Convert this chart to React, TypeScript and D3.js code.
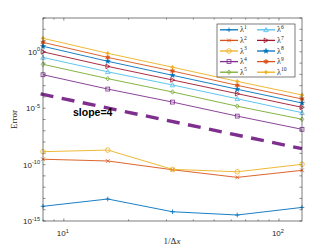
import React from "react";
import * as d3 from "d3";

// grid resolution 1/Δx
const gridN = [8, 16, 32, 64, 128];

// error for each power λ^k
const err1 = [2.0e-14, 8.9e-14, 6.6e-15, 3.4e-15, 1.6e-14];
const err2 = [3.0e-10, 2.1e-10, 3.5e-11, 7.4e-12, 3.1e-11];
const err3 = [1.4e-9, 1.95e-9, 3.8e-11, 2.3e-11, 1.07e-10];
const err4 = [9.3e-3, 5.0e-4, 3.5e-5, 2.0e-6, 1.35e-7];
const err5 = [7.8e-2, 4.2e-3, 2.75e-4, 1.5e-5, 1.05e-6];
const err6 = [0.32, 1.7e-2, 1.15e-3, 6.9e-5, 4.0e-6];
const err7 = [1.0, 5.1e-2, 3.2e-3, 1.95e-4, 1.2e-5];
const err8 = [3.1, 0.145, 8.3e-3, 4.8e-4, 2.9e-5];
const err9 = [6.9, 0.32, 2.0e-2, 1.07e-3, 6.6e-5];
const err10 = [15.8, 0.74, 4.3e-2, 2.4e-3, 1.5e-4];

// reference slope line
const slopeX = [7.8, 128];
const slopeY = [1.85e-4, 2.6e-9];

const seriesNames = ["1", "2", "3", "4", "5", "6", "7", "8", "9", "10"];
const seriesData = [err1, err2, err3, err4, err5, err6, err7, err8, err9, err10];
const colors = ["#0072BD", "#D95319", "#EDB120", "#7E2F8E", "#77AC30", "#4DBEEE", "#A2142F", "#0072BD", "#D95319", "#EDB120"];
const markers = ["plus", "cross", "circle", "square", "diamond", "triangle", "right", "star", "hex", "dot"];

const yTickExp = [0, -5, -10, -15];
const xTickExp = [1, 2];

const W = 333, H = 249;
const mL = 43, mR = 302, mT = 18, mB = 221;
const axisColor = "#262626";

function starPath(n: number, r1: number, r2: number) {
  const pts: string[] = [];
  for (let i = 0; i < 2 * n; i++) {
    const a = (Math.PI * i) / n - Math.PI / 2;
    const r = i % 2 === 0 ? r1 : r2;
    pts.push(`${(r * Math.cos(a)).toFixed(2)},${(r * Math.sin(a)).toFixed(2)}`);
  }
  return "M" + pts.join("L") + "Z";
}

function Marker({ kind, x, y, color }: { kind: string; x: number; y: number; color: string }) {
  const s = 2.3;
  const common = { stroke: color, strokeWidth: 0.8, fill: "none" };
  const t = `translate(${x},${y})`;
  switch (kind) {
    case "plus":
      return <path transform={t} d={`M${-s},0H${s}M0,${-s}V${s}`} {...common} />;
    case "cross":
      return <path transform={t} d={`M${-s * 0.8},${-s * 0.8}L${s * 0.8},${s * 0.8}M${-s * 0.8},${s * 0.8}L${s * 0.8},${-s * 0.8}`} {...common} />;
    case "circle":
      return <circle cx={x} cy={y} r={s} {...common} />;
    case "square":
      return <rect x={x - s * 0.85} y={y - s * 0.85} width={s * 1.7} height={s * 1.7} {...common} />;
    case "diamond":
      return <path transform={t} d={`M0,${-s}L${s * 0.8},0L0,${s}L${-s * 0.8},0Z`} {...common} />;
    case "triangle":
      return <path transform={t} d={`M0,${-s}L${s},${s * 0.8}L${-s},${s * 0.8}Z`} {...common} />;
    case "right":
      return <path transform={t} d={`M${s},0L${-s * 0.8},${-s}L${-s * 0.8},${s}Z`} {...common} />;
    case "star":
      return <path transform={t} d={starPath(5, s * 1.2, s * 0.5)} fill={color} stroke={color} strokeWidth={0.4} />;
    case "hex":
      return <path transform={t} d={starPath(6, s * 1.1, s * 0.6)} fill={color} stroke={color} strokeWidth={0.4} />;
    default:
      return <path transform={t} d={starPath(4, s * 0.9, s * 0.45)} fill={color} stroke={color} strokeWidth={0.6} />;
  }
}

function Pow({ base, exp, size, italicBase }: { base: string; exp: string; size: number; italicBase?: boolean }) {
  return (
    <>
      <tspan fontStyle={italicBase ? "italic" : "normal"}>{base}</tspan>
      <tspan fontSize={size * 0.7} dy={-size * 0.42}>{exp}</tspan>
    </>
  );
}

export default function App() {
  const x = d3.scaleLog().domain([8, 128]).range([mL, mR]);
  const y = d3.scaleLog().domain([1e-15, 1e3]).range([mB, mT]);

  const line = d3
    .line<number>()
    .x((_, i) => x(gridN[i]))
    .y((d) => y(d));

  const xMinor: number[] = [];
  for (let v = 8; v <= 128; ) {
    xMinor.push(v);
    v += v < 10 ? 1 : v < 100 ? 10 : 100;
  }
  const yMinor = d3.range(-15, 4).map((e) => Math.pow(10, e));

  const tl = 2.6;
  const legX = 217, legY = 24, legW = 78, legH = 53;
  const rowH = legH / 5;

  return (
    <svg width={W} height={H} style={{ position: "absolute", left: 0, top: 0, background: "#fff" }} fontFamily="Liberation Sans, Arial, sans-serif">
      <rect x={0} y={0} width={W} height={H} fill="#fff" />
      <rect x={mL} y={mT} width={mR - mL} height={mB - mT} fill="#fff" />

      {/* ticks */}
      <g stroke={axisColor} strokeWidth={0.5}>
        {xMinor.map((v) => (
          <g key={"x" + v}>
            <line x1={x(v)} x2={x(v)} y1={mB} y2={mB - (v === 10 || v === 100 ? tl : tl * 0.6)} />
            <line x1={x(v)} x2={x(v)} y1={mT} y2={mT + (v === 10 || v === 100 ? tl : tl * 0.6)} />
          </g>
        ))}
        {yMinor.map((v) => (
          <g key={"y" + v}>
            <line x1={mL} x2={mL + tl} y1={y(v)} y2={y(v)} />
            <line x1={mR} x2={mR - tl} y1={y(v)} y2={y(v)} />
          </g>
        ))}
      </g>

      {/* series */}
      {seriesData.map((d, i) => (
        <g key={"s" + i}>
          <path d={line(d) || ""} fill="none" stroke={colors[i]} strokeWidth={0.9} />
          {d.map((v, j) => (
            <Marker key={j} kind={markers[i]} x={x(gridN[j])} y={y(v)} color={colors[i]} />
          ))}
        </g>
      ))}

      {/* slope reference */}
      <line
        x1={x(slopeX[0])}
        y1={y(slopeY[0])}
        x2={x(slopeX[1])}
        y2={y(slopeY[1])}
        stroke="#7E2F8E"
        strokeWidth={3.4}
        strokeDasharray="13,8.5"
      />
      <text x={73} y={116} fontSize={10.5} fontWeight="bold" fill="#000">slope=4</text>

      {/* box */}
      <rect x={mL} y={mT} width={mR - mL} height={mB - mT} fill="none" stroke={axisColor} strokeWidth={0.6} />

      {/* tick labels */}
      <g fill={axisColor} fontSize={8}>
        {yTickExp.map((e) => (
          <text key={"yl" + e} x={40} y={y(Math.pow(10, e)) + 3} textAnchor="end">
            <Pow base="10" exp={String(e)} size={8} />
          </text>
        ))}
        {xTickExp.map((e) => (
          <text key={"xl" + e} x={x(Math.pow(10, e)) - 1} y={236} textAnchor="middle">
            <Pow base="10" exp={String(e)} size={8} />
          </text>
        ))}
      </g>

      {/* axis labels */}
      <text x={172} y={244} textAnchor="middle" fontSize={9} fontFamily="Liberation Serif, serif" fill={axisColor}>
        1/Δ<tspan fontStyle="italic">x</tspan>
      </text>
      <text transform={`translate(17,${(mT + mB) / 2}) rotate(-90)`} textAnchor="middle" fontSize={9} fontFamily="Liberation Serif, serif" fill={axisColor}>
        Error
      </text>

      {/* legend */}
      <rect x={legX} y={legY} width={legW} height={legH} fill="#fff" stroke={axisColor} strokeWidth={0.6} />
      {seriesNames.map((name, i) => {
        const col = i < 5 ? 0 : 1;
        const row = i % 5;
        const lx = legX + 3 + col * 37;
        const ly = legY + rowH * (row + 0.5) + 0.5;
        return (
          <g key={"lg" + i}>
            <line x1={lx} x2={lx + 18} y1={ly} y2={ly} stroke={colors[i]} strokeWidth={1.3} />
            <Marker kind={markers[i]} x={lx + 9} y={ly} color={colors[i]} />
            <text x={lx + 20} y={ly + 2.5} fontSize={8} fontFamily="Liberation Serif, serif" fill={axisColor}>
              <Pow base="λ" exp={name} size={8} />
            </text>
          </g>
        );
      })}
    </svg>
  );
}
